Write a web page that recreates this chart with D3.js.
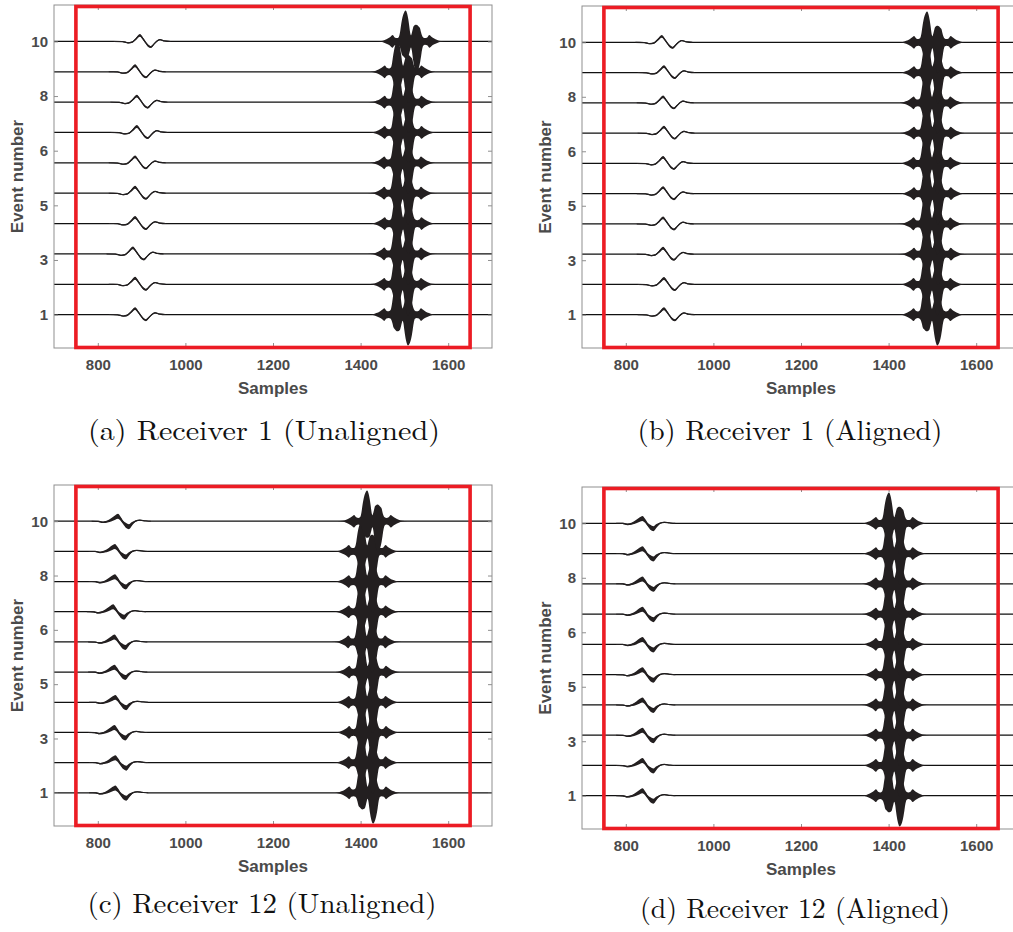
<!DOCTYPE html>
<html><head><meta charset="utf-8">
<script src="https://cdn.jsdelivr.net/npm/d3@7"></script>
<style>body{margin:0;background:#fff;} svg{display:block;}</style>
</head><body><svg id="chart" width="1013" height="932"></svg>
<script>
// ---------------- data ----------------
const events = [1, 2, 3, 4, 5, 6, 7, 8, 9, 10];
const xTicks = [800, 1000, 1200, 1400, 1600];
const yTickValues = [1, 2.8, 4.6, 6.4, 8.2, 10];
const yTickLabels = ["1", "3", "5", "6", "8", "10"];
const xDomain = [700, 1700];
const yDomain = [-0.1, 11.2];
const windowSamples = [750, 1650];
const captions = ["(a) Receiver 1 (Unaligned)", "(b) Receiver 1 (Aligned)",
                  "(c) Receiver 12 (Unaligned)", "(d) Receiver 12 (Aligned)"];

// arrival sample of first (small) wavelet peak, events 1..10
const r1UnalignedWiggle  = [885, 885, 880, 885, 885, 885, 889, 889, 885, 896];
const r1AlignedWiggle    = [887, 887, 885, 885, 885, 885, 887, 885, 887, 882];
const r12UnalignedWiggle = [840, 840, 838, 840, 838, 838, 835, 839, 839, 846];
const r12AlignedWiggle   = [838, 838, 838, 838, 838, 838, 838, 838, 838, 838];
// centre sample of the large wave packet, events 1..10
const r1UnalignedPacket  = [1496, 1496, 1496, 1497, 1496, 1496, 1497, 1497, 1497, 1515];
const r1AlignedPacket    = [1499, 1499, 1500, 1499, 1500, 1499, 1500, 1499, 1500, 1500];
const r12UnalignedPacket = [1416, 1415, 1416, 1415, 1416, 1414, 1415, 1415, 1415, 1427];
const r12AlignedPacket   = [1413, 1413, 1413, 1413, 1413, 1413, 1413, 1413, 1413, 1413];

// first wavelet shape (sample offset, upper / lower trace excursion in event units)
const r1WiggleOffsets = [-60, -40, -27, -18, -9, 0, 7, 13, 19, 25, 32, 40, 46, 56, 70];
const r1WiggleUpper   = [0.016, 0.01, -0.026, 0, 0.115, 0.245, 0.13, 0, -0.1, -0.15, -0.065, 0.04, 0.075, 0.033, 0.016];
const r1WiggleLower   = [-0.016, -0.023, -0.066, -0.05, 0.05, 0.15, 0.05, -0.066, -0.18, -0.215, -0.115, 0, 0.04, 0, -0.016];
const r12WiggleOffsets = [-60, -45, -34, -24, -14, -6, 0, 6, 12, 18, 25, 32, 40, 50, 62, 75];
const r12WiggleUpper   = [0.016, 0.016, -0.01, 0.026, 0.115, 0.2, 0.245, 0.15, 0.016, -0.05, -0.1, -0.026, 0.026, 0.05, 0.026, 0.016];
const r12WiggleLower   = [-0.016, -0.023, -0.06, -0.04, 0, 0.05, 0.08, 0.016, -0.1, -0.215, -0.265, -0.15, -0.02, 0.016, 0, -0.016];

// large packet envelope (sample offset from centre, upper / lower envelope in event units)
const packetOffsets = [-80, -68, -60, -52, -46, -42, -37, -32, -28, -25, -23, -21, -18, -15, -12, -9, -6, -4, -2, 0,
                       2, 4, 6, 9, 12, 15, 18, 21, 23, 25, 28, 32, 37, 42, 46, 52, 60, 68, 80];
const packetUpper = [0, 0.013, 0.05, 0.105, 0.165, 0.21, 0.13, 0.11, 0.14, 0.3, 0.5, 0.68, 0.87, 0.98, 1.02, 0.93, 0.72, 0.52, 0.3, 0.2,
                     0.28, 0.4, 0.5, 0.54, 0.55, 0.53, 0.48, 0.42, 0.3, 0.2, 0.13, 0.11, 0.13, 0.21, 0.165, 0.105, 0.05, 0.013, 0];
const packetLower = [0, 0.013, 0.05, 0.105, 0.165, 0.21, 0.13, 0.11, 0.13, 0.2, 0.3, 0.42, 0.48, 0.53, 0.55, 0.54, 0.5, 0.4, 0.28, 0.2,
                     0.3, 0.52, 0.72, 0.93, 1.02, 0.98, 0.87, 0.68, 0.5, 0.3, 0.14, 0.11, 0.13, 0.21, 0.165, 0.105, 0.05, 0.013, 0];

// ---------------- layout ----------------
const panels = [
  {left: 54,  top: 5,   width: 438, height: 343, wig: r1UnalignedWiggle,  pkt: r1UnalignedPacket,  shape: "r1",  cap: 0, capX: 264, capY: 440},
  {left: 582, top: 6,   width: 438, height: 342, wig: r1AlignedWiggle,    pkt: r1AlignedPacket,    shape: "r1",  cap: 1, capX: 790, capY: 440},
  {left: 54,  top: 485, width: 438, height: 341, wig: r12UnalignedWiggle, pkt: r12UnalignedPacket, shape: "r12", cap: 2, capX: 262, capY: 913},
  {left: 582, top: 487, width: 438, height: 342, wig: r12AlignedWiggle,   pkt: r12AlignedPacket,   shape: "r12", cap: 3, capX: 795, capY: 918}
];
const capWidths = [352, 305, 349, 310];

const svg = d3.select("#chart");
const axisGray = "#8f8f8f", textGray = "#4a4a4a", ink = "#231f20", red = "#ec1c24";

panels.forEach((p, pi) => {
  const g = svg.append("g").attr("transform", `translate(${p.left},${p.top})`);
  const x = d3.scaleLinear().domain(xDomain).range([0, p.width]);
  const y = d3.scaleLinear().domain(yDomain).range([p.height, 0]);
  const clipId = "clip" + pi;
  g.append("clipPath").attr("id", clipId).append("rect")
    .attr("width", p.width).attr("height", p.height);
  const plot = g.append("g").attr("clip-path", `url(#${clipId})`);

  const wOff = p.shape === "r1" ? r1WiggleOffsets : r12WiggleOffsets;
  const wUp = p.shape === "r1" ? r1WiggleUpper : r12WiggleUpper;
  const wLo = p.shape === "r1" ? r1WiggleLower : r12WiggleLower;

  const line = d3.line().x(d => x(d.s)).y(d => y(d.v)).curve(d3.curveMonotoneX);
  const area = d3.area().x(d => x(d.s)).y0(d => y(d.lo)).y1(d => y(d.hi)).curve(d3.curveMonotoneX);

  events.forEach((ev, i) => {
    const w0 = p.wig[i], c0 = p.pkt[i];
    const wig = wOff.map((o, k) => ({s: w0 + o, hi: ev + wUp[k], lo: ev + wLo[k], v: ev + (wUp[k] + wLo[k]) / 2}));
    const pts = [{s: xDomain[0] - 20, v: ev}].concat(wig)
      .concat([{s: c0 - 80, v: ev}, {s: xDomain[1] + 20, v: ev}]);
    plot.append("path").attr("d", line(pts)).attr("fill", "none")
      .attr("stroke", "#111").attr("stroke-width", 1.25);
    plot.append("path").attr("d", area(wig)).attr("fill", ink);
    const pk = packetOffsets.map((o, k) => ({s: c0 + o, hi: ev + packetUpper[k], lo: ev - packetLower[k]}));
    plot.append("path").attr("d", area(pk)).attr("fill", ink);
  });

  // box
  g.append("rect").attr("width", p.width).attr("height", p.height)
    .attr("fill", "none").attr("stroke", axisGray).attr("stroke-width", 1);

  const styleAxis = sel => {
    sel.select(".domain").remove();
    sel.selectAll(".tick line").attr("stroke", axisGray);
    sel.selectAll(".tick text").attr("fill", textGray)
      .attr("font-family", "'Liberation Sans', Arial, sans-serif")
      .attr("font-weight", "bold").attr("font-size", 15);
  };
  g.append("g").attr("transform", `translate(0,${p.height})`)
    .call(d3.axisBottom(x).tickValues(xTicks).tickSize(-5).tickPadding(11).tickFormat(d3.format("d")))
    .call(styleAxis);
  g.append("g")
    .call(d3.axisTop(x).tickValues(xTicks).tickSize(-5).tickFormat(""))
    .call(styleAxis);
  g.append("g")
    .call(d3.axisLeft(y).tickValues(yTickValues).tickSize(-4).tickPadding(6)
      .tickFormat((d, k) => yTickLabels[k]))
    .call(styleAxis);
  g.append("g").attr("transform", `translate(${p.width},0)`)
    .call(d3.axisRight(y).tickValues(yTickValues).tickSize(-4).tickFormat(""))
    .call(styleAxis);

  // red window
  g.append("rect")
    .attr("x", x(windowSamples[0])).attr("y", 1.5)
    .attr("width", x(windowSamples[1]) - x(windowSamples[0])).attr("height", p.height - 2)
    .attr("fill", "none").attr("stroke", red).attr("stroke-width", 3.6);

  // axis titles
  g.append("text").text("Samples")
    .attr("x", p.width / 2).attr("y", p.height + 46)
    .attr("text-anchor", "middle").attr("fill", textGray)
    .attr("font-family", "'Liberation Sans', Arial, sans-serif")
    .attr("font-weight", "bold").attr("font-size", 17);
  g.append("text").text("Event number")
    .attr("transform", `translate(-31,${p.height / 2}) rotate(-90)`)
    .attr("text-anchor", "middle").attr("fill", textGray)
    .attr("font-family", "'Liberation Sans', Arial, sans-serif")
    .attr("font-weight", "bold").attr("font-size", 17);

  // caption
  svg.append("text").text(captions[p.cap])
    .attr("x", p.capX).attr("y", p.capY)
    .attr("text-anchor", "middle").attr("fill", "#111")
    .attr("font-family", "'Latin Modern Roman', 'CMU Serif', 'Liberation Serif', serif")
    .attr("font-size", 28)
    .attr("textLength", capWidths[p.cap]).attr("lengthAdjust", "spacingAndGlyphs");
});
</script>
</body></html>
